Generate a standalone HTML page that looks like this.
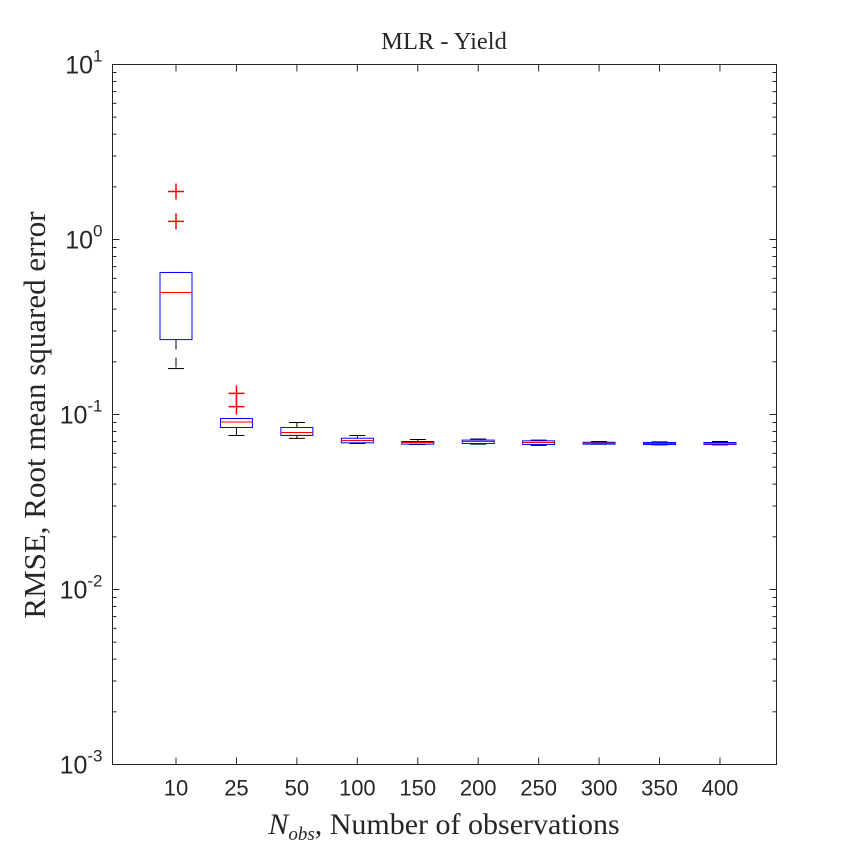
<!DOCTYPE html>
<html><head><meta charset="utf-8"><style>
body{margin:0;background:#fff}
svg text{fill:#262626}
</style></head><body>
<svg id="chart" width="859" height="859" xmlns="http://www.w3.org/2000/svg">
<rect x="0" y="0" width="859" height="859" fill="#fff"/>
<g id="g"></g>
</svg>
<script>
const categories=["10","25","50","100","150","200","250","300","350","400"];
const q1=[0.268,0.0843,0.0759,0.0689,0.0677,0.0683,0.0674,0.0677,0.0674,0.0674];
const medians=[0.498,0.0906,0.0789,0.0710,0.0692,0.0701,0.0692,0.0686,0.0683,0.0680];
const q3=[0.648,0.0948,0.0843,0.0732,0.0701,0.0714,0.0707,0.0694,0.0692,0.0692];
const whiskerLow=[0.183,0.0759,0.0730,0.0683,0.0674,0.0677,0.0666,0.0677,0.0671,0.0671];
const whiskerHigh=[0.648,0.0948,0.0900,0.0759,0.0720,0.0725,0.0714,0.0701,0.0697,0.0701];
const outliers=[[1.88,1.27],[0.132,0.111],[],[],[],[],[],[],[],[]];
const yTickExps=[-3,-2,-1,0,1];

const L=112.5,R=776.5,T=64.5,B=764.5;
const yMinE=-3,yMaxE=1;
function y(v){return B-(Math.log10(v)-yMinE)/(yMaxE-yMinE)*(B-T);}
function x(i){return 176+i*60.44;}
const NS="http://www.w3.org/2000/svg";
const g=document.getElementById('g');
function el(t,a,p){const e=document.createElementNS(NS,t);for(const k in a)e.setAttribute(k,a[k]);(p||g).appendChild(e);return e;}

const ax=el('rect',{x:L,y:T,width:R-L,height:B-T,fill:'none',stroke:'#262626','stroke-width':1});



yTickExps.forEach(e=>{
  const yy=y(Math.pow(10,e));
  el('line',{x1:L,x2:L+7,y1:yy,y2:yy,stroke:'#262626'});
  el('line',{x1:R,x2:R-7,y1:yy,y2:yy,stroke:'#262626'});
  const t=el('text',{x:L-10,y:yy+9,'text-anchor':'end','font-family':'Liberation Sans, sans-serif','font-size':'25'});
  
  
  t.textContent='10';
  const s=el('tspan',{dy:-12,'font-size':'17'},t);s.textContent=String(e);
  if(e<yMaxE){for(let m=2;m<=9;m++){const ym=y(m*Math.pow(10,e));
    el('line',{x1:L,x2:L+4,y1:ym,y2:ym,stroke:'#262626'});
    el('line',{x1:R,x2:R-4,y1:ym,y2:ym,stroke:'#262626'});}}
});
categories.forEach((c,i)=>{
  const xx=x(i);
  el('line',{x1:xx,x2:xx,y1:B,y2:B-7,stroke:'#262626'});
  el('line',{x1:xx,x2:xx,y1:T,y2:T+7,stroke:'#262626'});
  const t=el('text',{x:xx,y:B+31,'text-anchor':'middle','font-family':'Liberation Sans, sans-serif','font-size':'22'});
  
  
  t.textContent=c;
});
const hw=16,cw=8;
categories.forEach((c,i)=>{
  const xx=x(i);
  const grp=el('g',{});
  
  
  el('line',{x1:xx,x2:xx,y1:y(whiskerHigh[i]),y2:y(q3[i]),stroke:'#000','stroke-dasharray':'10,8'},grp);
  el('line',{x1:xx,x2:xx,y1:y(q1[i]),y2:y(whiskerLow[i]),stroke:'#000','stroke-dasharray':'10,8'},grp);
  el('line',{x1:xx-cw,x2:xx+cw,y1:y(whiskerHigh[i]),y2:y(whiskerHigh[i]),stroke:'#000'},grp);
  el('line',{x1:xx-cw,x2:xx+cw,y1:y(whiskerLow[i]),y2:y(whiskerLow[i]),stroke:'#000'},grp);
  el('rect',{x:xx-hw,y:y(q3[i]),width:2*hw,height:Math.max(0.5,y(q1[i])-y(q3[i])),fill:'none',stroke:'#0000ff'},grp);
  el('line',{x1:xx-hw,x2:xx+hw,y1:y(medians[i]),y2:y(medians[i]),stroke:'#ff0000'},grp);
  outliers[i].forEach(o=>{const yy=y(o);
    const p=el('path',{d:`M${xx-8},${yy}H${xx+8}M${xx},${yy-8}V${yy+8}`,stroke:'#ff0000','stroke-width':1.5},grp);
    
    
  });
});
</script>
<svg style="position:absolute;left:0;top:0" width="859" height="859" xmlns="http://www.w3.org/2000/svg">
<text x="444" y="49" text-anchor="middle" font-family="Liberation Serif, serif" font-size="24.5" fill="#000">MLR - Yield</text>
<text x="444" y="834" text-anchor="middle" font-family="Liberation Serif, serif" font-size="30" fill="#262626"><tspan font-style="italic">N</tspan><tspan font-style="italic" font-size="19" dy="6">obs</tspan><tspan dy="-6">, Number of observations</tspan></text>
<text transform="translate(45,415) rotate(-90)" text-anchor="middle" font-family="Liberation Serif, serif" font-size="31" fill="#262626">RMSE, Root mean squared error</text>
</svg>
</body></html>
